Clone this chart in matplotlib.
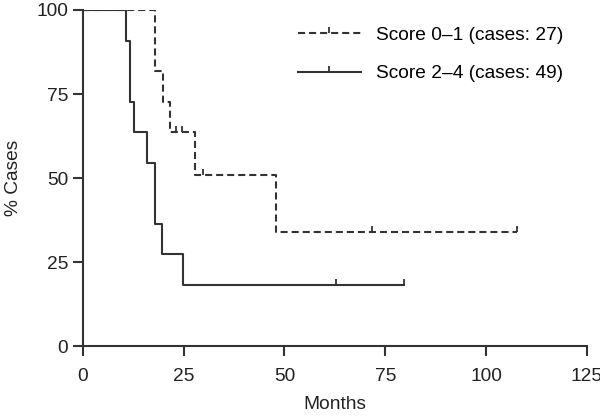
import matplotlib
matplotlib.use('Agg')
import matplotlib.pyplot as plt

plt.rcParams['font.family'] = ['Liberation Sans', 'DejaVu Sans']

# Score 0-1 (27 cases)
t01 = [0, 17.9, 19.8, 21.7, 27.9, 47.8, 107.6]
s01 = [100, 81.8, 72.7, 63.6, 50.9, 33.9, 33.9]
cens_t01 = [23.2, 24.5, 29.8, 71.8, 107.6]
cens_s01 = [63.6, 63.6, 50.9, 33.9, 33.9]

# Score 2-4 (49 cases)
t24 = [0, 10.8, 11.8, 12.7, 15.9, 17.8, 19.7, 24.9, 79.7]
s24 = [100, 90.9, 72.7, 63.6, 54.5, 36.4, 27.3, 18.2, 18.2]
cens_t24 = [62.7, 79.7]
cens_s24 = [18.2, 18.2]

labels = ['Score 0\u20131 (cases: 27)', 'Score 2\u20134 (cases: 49)']
xticks = [0, 25, 50, 75, 100, 125]
yticks = [0, 25, 50, 75, 100]

col = '#333333'
txt = '#222222'
dash = (0, (3.4, 1.9))
fs = 13.8

fig = plt.figure(figsize=(6, 4.16), dpi=100)
ax = fig.add_axes([0.138, 0.168, 0.84, 0.808])

ax.plot(t01, s01, drawstyle='steps-post', color=col, lw=1.5, ls=dash)
ax.plot(cens_t01, cens_s01, ls='none', marker=2, ms=4.5, mew=1.3, color=col)
ax.plot(t24, s24, drawstyle='steps-post', color=col, lw=1.5)
ax.plot(cens_t24, cens_s24, ls='none', marker=2, ms=4.5, mew=1.3, color=col)

# legend handles
h1, = ax.plot([], [], color=col, lw=1.5, ls=dash, marker=2, ms=4.5, mew=1.3)
h2, = ax.plot([], [], color=col, lw=1.5, marker=2, ms=4.5, mew=1.3)
ax.legend([h1, h2], labels, loc='upper left', bbox_to_anchor=(0.4266, 0.951),
          borderaxespad=0, borderpad=0, frameon=False, fontsize=fs,
          handlelength=3.3, handletextpad=0.77, labelspacing=1.1, numpoints=1)

ax.set_xlim(0, 125)
ax.set_ylim(0, 100)
ax.set_xticks(xticks)
ax.set_yticks(yticks)
ax.spines['top'].set_visible(False)
ax.spines['right'].set_visible(False)
for s in ['left', 'bottom']:
    ax.spines[s].set_color(col)
    ax.spines[s].set_linewidth(1.5)
ax.tick_params(direction='out', length=7.5, width=1.5, color=col,
               labelsize=fs, labelcolor=txt)
ax.tick_params(axis='x', pad=8)
ax.tick_params(axis='y', pad=3)
ax.set_xlabel('Months', fontsize=fs, color=txt, labelpad=8)
ax.set_ylabel('% Cases', fontsize=fs, color=txt, labelpad=10)

plt.savefig('out.png', dpi=100)
